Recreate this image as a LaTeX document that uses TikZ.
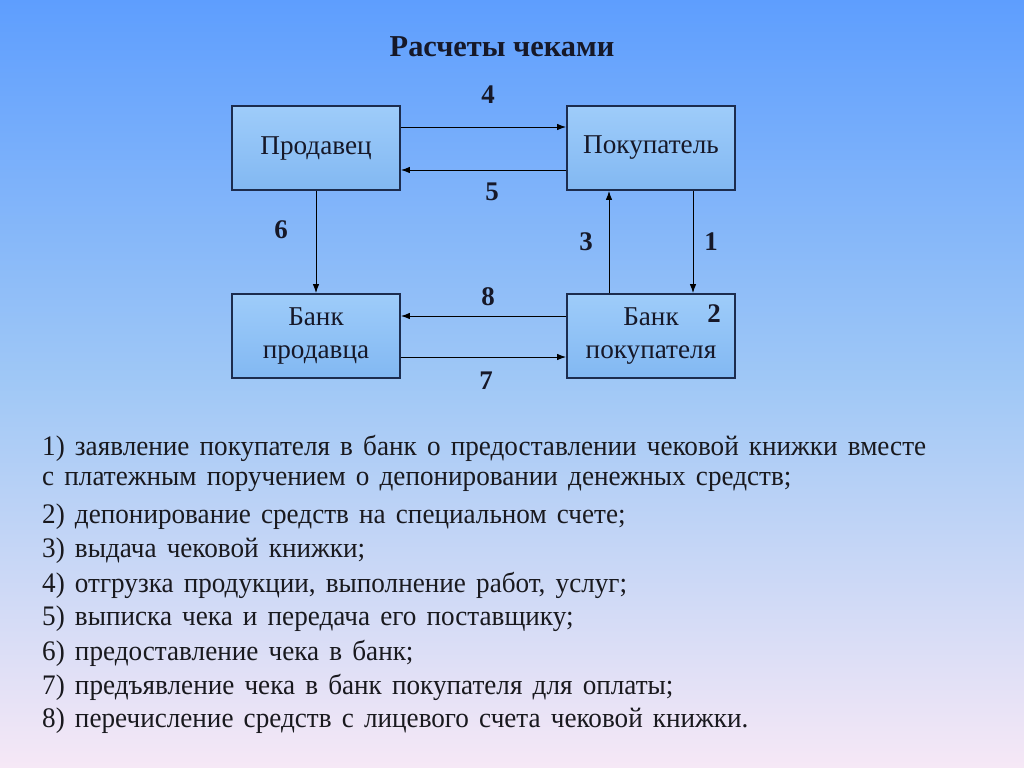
\documentclass[tikz,border=0pt]{standalone}
\usepackage{fontspec}
\setmainfont{Liberation Serif}
\newfontfamily\bodyfont[FakeStretch=0.96,WordSpace=1.5]{Liberation Serif}
\usetikzlibrary{arrows.meta}
\definecolor{bgtop}{RGB}{94,158,254}
\definecolor{bgmid}{RGB}{160,200,246}
\definecolor{bgbot}{RGB}{246,232,246}
\definecolor{boxedge}{RGB}{28,44,78}
\definecolor{txt}{RGB}{22,24,40}
\tikzset{
  box/.style={draw=boxedge, line width=1.8bp, top color={rgb,255:red,158;green,204;blue,250}, bottom color={rgb,255:red,130;green,184;blue,242}, minimum width=168bp, minimum height=84bp, inner sep=0pt, text=txt, font=\fontsize{27.3}{33}\selectfont, align=center},
  conn/.style={-{Latex[length=9bp,width=6.5bp]}, line width=1bp, draw=black},
  num/.style={font=\bfseries\fontsize{27}{30}\selectfont, text=txt, inner sep=0pt},
  body/.style={anchor=west, inner sep=0pt, font=\bodyfont\fontsize{28.4}{32}\selectfont, text={rgb,255:red,25;green,25;blue,30}}
}
\begin{document}
\begin{tikzpicture}[x=1bp,y=-1bp]
\shade[top color=bgtop, bottom color=bgbot, middle color=bgmid] (0,0) rectangle (1024,768);
\useasboundingbox (0,0) rectangle (1024,768);
\node[font=\bfseries\fontsize{30.5}{34}\selectfont, text=txt] (title) at (502,47) {Расчеты чеками};
\node[box] (s) at (316,148) {Продавец};
\node[box] (b) at (651,148) {Покупатель};
\node[box] (bs) at (316,336) {Банк\\продавца};
\node[box] (bb) at (651,336) {Банк\\покупателя};
\draw[conn] ([yshift=21bp]s.east) -- ([yshift=21bp]b.west);
\draw[conn] ([yshift=-22bp]b.west) -- ([yshift=-22bp]s.east);
\draw[conn] (s.south) -- (bs.north);
\draw[conn] ([xshift=-42bp]bb.north) -- ([xshift=-42bp]b.south);
\draw[conn] ([xshift=42bp]b.south) -- ([xshift=42bp]bb.north);
\draw[conn] ([yshift=20bp]bb.west) -- ([yshift=20bp]bs.east);
\draw[conn] ([yshift=-21bp]bs.east) -- ([yshift=-21bp]bb.west);
\node[num] (n4) at (488,95) {4};
\node[num] (n5) at (492,192) {5};
\node[num] (n6) at (281,230) {6};
\node[num] (n3) at (586,242) {3};
\node[num] (n1) at (711,242) {1};
\node[num] (n8) at (488,297) {8};
\node[num] (n2) at (714,314) {2};
\node[num] (n7) at (486,381) {7};
\node[body] (l1) at (42,448) {1) заявление покупателя в банк о предоставлении чековой книжки вместе};
\node[body] (l2) at (42,482) {с платежным поручением о депонировании денежных средств;};
\node[body] (l3) at (42,517) {2) депонирование средств на специальном счете;};
\node[body] (l4) at (42,551) {3) выдача чековой книжки;};
\node[body] (l5) at (42,585) {4) отгрузка продукции, выполнение работ, услуг;};
\node[body] (l6) at (42,619) {5) выписка чека и передача его поставщику;};
\node[body] (l7) at (42,653) {6) предоставление чека в банк;};
\node[body] (l8) at (42,687) {7) предъявление чека в банк покупателя для оплаты;};
\node[body] (l9) at (42,721) {8) перечисление средств с лицевого счета чековой книжки.};
\end{tikzpicture}
\end{document}
